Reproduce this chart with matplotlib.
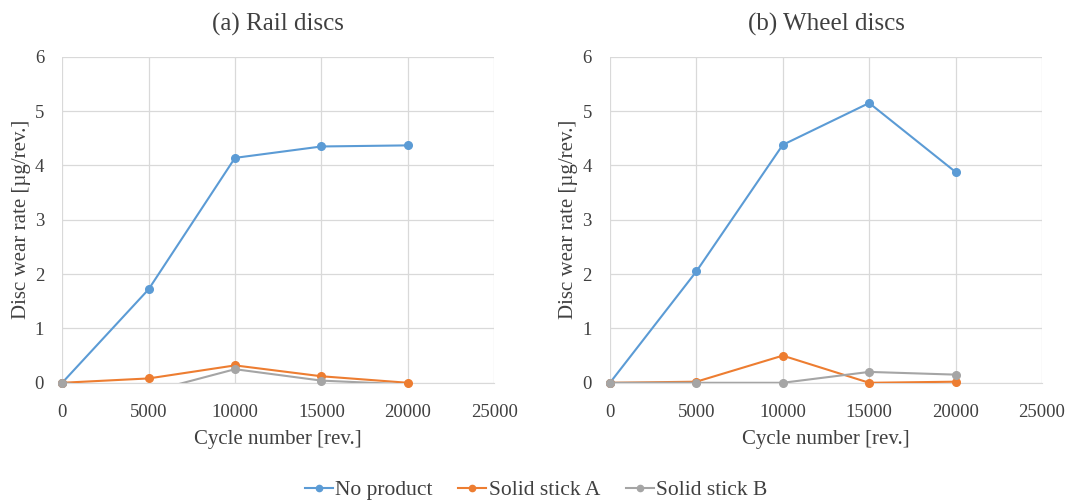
import numpy as np
import matplotlib.pyplot as plt

plt.rcParams['font.family'] = ['Liberation Serif', 'DejaVu Serif']

cycles = [0, 5000, 10000, 15000, 20000]
series_names = ["No product", "Solid stick A", "Solid stick B"]
colors = ["#5B9BD5", "#ED7D31", "#A5A5A5"]

# rail discs
rail_no_product = [0, 1.72, 4.14, 4.35, 4.37]
rail_stick_a = [0, 0.08, 0.32, 0.12, 0.0]
rail_stick_b = [0, -0.17, 0.25, 0.04, -0.03]

# wheel discs
wheel_no_product = [0, 2.05, 4.38, 5.15, 3.88]
wheel_stick_a = [0, 0.02, 0.5, 0.0, 0.02]
wheel_stick_b = [0, 0.0, 0.0, 0.2, 0.15]

fig = plt.figure(figsize=(10.72, 5.03), dpi=100)
ax1 = fig.add_axes([0.058, 0.239, 0.403, 0.648])
ax2 = fig.add_axes([0.569, 0.239, 0.403, 0.648])

panels = [
    (ax1, "(a) Rail discs", [rail_no_product, rail_stick_a, rail_stick_b]),
    (ax2, "(b) Wheel discs", [wheel_no_product, wheel_stick_a, wheel_stick_b]),
]

txt = "#404040"
for ax, title, data in panels:
    for vals, name, c in zip(data, series_names, colors):
        vals = np.array(vals, dtype=float)
        ax.plot(cycles, vals, color=c, lw=1.5, zorder=3)
        # markers only where the point sits inside the axis range
        keep = vals >= 0
        ax.plot(np.array(cycles)[keep], vals[keep], 'o', color=c, ms=5.5,
                clip_on=False, zorder=4)
    ax.set_xlim(0, 25000)
    ax.set_ylim(0, 6)
    ax.set_xticks(range(0, 25001, 5000))
    ax.set_yticks(range(0, 7))
    ax.grid(True, color="#D9D9D9", lw=0.9)
    ax.set_axisbelow(True)
    for s in ["top", "right", "left"]:
        ax.spines[s].set_visible(False)
    ax.spines["bottom"].set_color("#D9D9D9")
    ax.tick_params(length=0, labelsize=13.5, colors=txt)
    ax.tick_params(axis="x", pad=15)
    ax.tick_params(axis="y", pad=13)
    ax.set_title(title, fontsize=18, color=txt, pad=19)
    ax.set_xlabel("Cycle number [rev.]", fontsize=15, color=txt, labelpad=7)
    ax.set_ylabel("Disc wear rate [µg/rev.]", fontsize=15, color=txt, labelpad=3)

handles = []
for name, c in zip(series_names, colors):
    handles.append(plt.Line2D([], [], color=c, lw=1.5, marker='o', ms=4.5, label=name))

fig.legend(handles=handles, loc="center", ncol=3, frameon=False,
           bbox_to_anchor=(0.5, 0.025), fontsize=15.5, handlelength=1.3,
           handletextpad=0.1, columnspacing=1.2, labelcolor=txt)

fig.savefig("out.png", dpi=100)
